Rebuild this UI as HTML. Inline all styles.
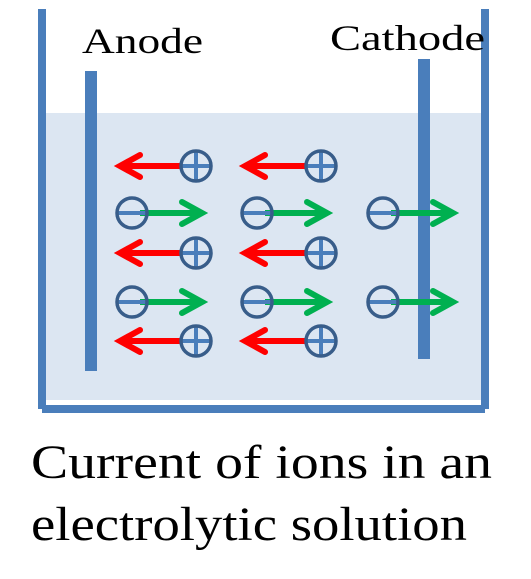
<!DOCTYPE html>
<html><head><meta charset="utf-8"><style>
html,body{margin:0;padding:0;background:#fff;width:531px;height:579px;overflow:hidden}
svg{display:block}
text{font-family:"Liberation Serif",serif;fill:#000}
</style></head><body>
<svg width="531" height="579" viewBox="0 0 531 579">
<rect x="46" y="113" width="435" height="287" fill="#dce6f2"/>
<rect x="38" y="9" width="8" height="400" fill="#4a7ebb"/>
<rect x="481" y="9" width="8" height="400" fill="#4a7ebb"/>
<rect x="42" y="405" width="443" height="8" fill="#4a7ebb"/>
<rect x="85" y="71" width="12" height="300" fill="#4a7ebb"/>
<rect x="418" y="59" width="12" height="300" fill="#4a7ebb"/>
<text x="82" y="53" font-size="36" textLength="121" lengthAdjust="spacingAndGlyphs">Anode</text>
<text x="330" y="50" font-size="36" textLength="155" lengthAdjust="spacingAndGlyphs">Cathode</text>
<text x="31" y="478" font-size="48" textLength="461" lengthAdjust="spacingAndGlyphs">Current of ions in an</text>
<text x="31" y="540" font-size="48" textLength="436" lengthAdjust="spacingAndGlyphs">electrolytic solution</text>
<g id="ions"></g>
</svg>
<script>
const posX=[196,321];
const posY=[166,253,341];
const negX=[132,257,383];
const negY=[213,302];
const g=document.getElementById('ions');
const NS='http://www.w3.org/2000/svg';
function mk(t,a){const e=document.createElementNS(NS,t);for(const k in a)e.setAttribute(k,a[k]);return e;}
function arrow(x1,x2,y,col,name){
  const grp=mk('g',{});
  
  
  const d=x2>x1?-1:1;
  grp.appendChild(mk('line',{x1:x1,y1:y,x2:x2+d*2,y2:y,stroke:col,'stroke-width':6}));
  grp.appendChild(mk('polyline',{points:`${x2+d*20},${y-11} ${x2},${y} ${x2+d*20},${y+11}`,fill:'none',stroke:col,'stroke-width':6,'stroke-linecap':'round','stroke-linejoin':'miter'}));
  g.appendChild(grp);
}
function ion(cx,cy,plus,name){
  const grp=mk('g',{});
  
  
  grp.appendChild(mk('line',{x1:cx-14,y1:cy,x2:cx+14,y2:cy,stroke:'#4a7ebb','stroke-width':4}));
  if(plus)grp.appendChild(mk('line',{x1:cx,y1:cy-14,x2:cx,y2:cy+14,stroke:'#4a7ebb','stroke-width':4}));
  grp.appendChild(mk('circle',{cx:cx,cy:cy,r:15,fill:'none',stroke:'#385d8a','stroke-width':3.5}));
  g.appendChild(grp);
}
posY.forEach(y=>posX.forEach(x=>{arrow(x-15,x-76,y,'#ff0000','cation-arrow');}));
negY.forEach(y=>negX.forEach(x=>{arrow(x+8,x+70,y,'#00b050','anion-arrow');}));
posY.forEach(y=>posX.forEach(x=>{ion(x,y,true,'cation');}));
negY.forEach(y=>negX.forEach(x=>{ion(x,y,false,'anion');}));
</script>
</body></html>
